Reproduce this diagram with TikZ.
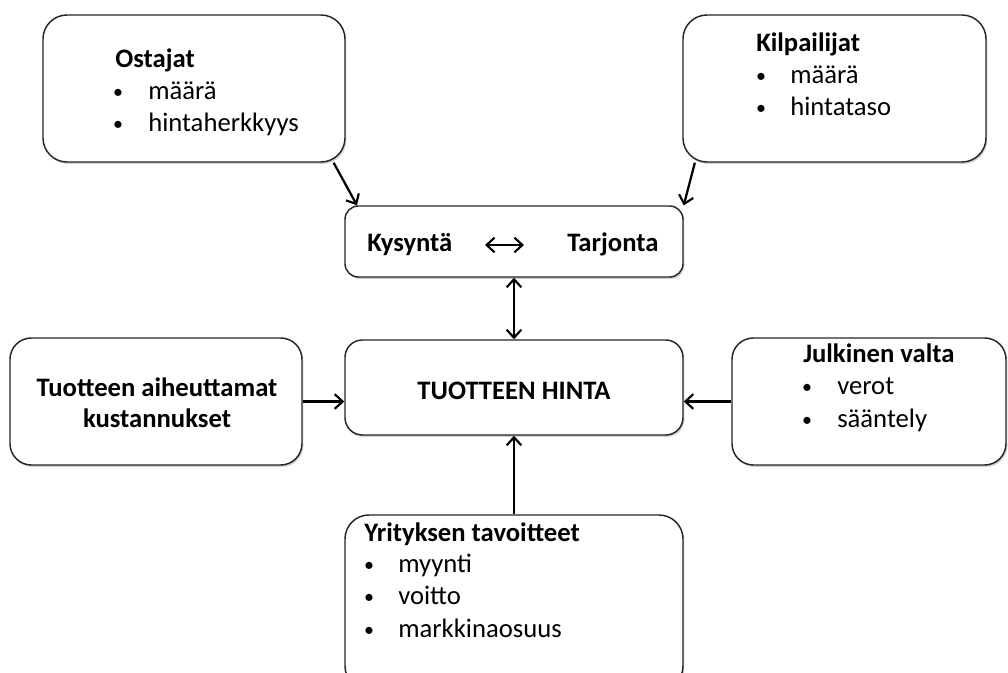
\documentclass[tikz,border=0pt]{standalone}
\usepackage{fontspec}
\setmainfont{Carlito}
\usetikzlibrary{arrows.meta,shadows,calc}
\begin{document}
\begin{tikzpicture}[x=0.75pt,y=-0.75pt,
  box/.style={draw=black!85, line width=1.1pt, fill=white, rounded corners=#1,
    inner sep=0pt, drop shadow={shadow xshift=1pt, shadow yshift=-1.5pt, opacity=0.3, fill=black!60}},
  box/.default=18pt,
  tip/.tip={Straight Barb[length=6pt,width=11pt,line width=1.6pt]},
  arr/.style={line width=1.7pt, -tip},
  darr/.style={line width=1.7pt, tip-tip},
  txt/.style={anchor=base west, inner sep=0pt, font=\fontsize{20}{24}\selectfont},
  btxt/.style={txt, font=\fontsize{20}{24}\selectfont\bfseries},
  bul/.style={anchor=base, inner sep=0pt, font=\fontsize{15}{18}\selectfont}
]
\clip (0,0) rectangle (1008,673);
\useasboundingbox (0,0) rectangle (1008,673);

% boxes
\node[box=18pt, minimum width=302*0.75pt, minimum height=147*0.75pt] (ost) at (194,88.5) {};
\node[box=18pt, minimum width=303*0.75pt, minimum height=147*0.75pt] (kil) at (834.5,88.5) {};
\node[box=10pt, minimum width=338*0.75pt, minimum height=71*0.75pt] (kys) at (514,241.5) {};
\node[box=13pt, minimum width=338*0.75pt, minimum height=95*0.75pt] (hin) at (514,387.5) {};
\node[box=16pt, minimum width=292*0.75pt, minimum height=127*0.75pt] (tac) at (156,401.5) {};
\node[box=16pt, minimum width=274*0.75pt, minimum height=127*0.75pt] (jul) at (869,401.5) {};
\node[box=18pt, minimum width=338*0.75pt, minimum height=175*0.75pt] (yri) at (514,602.5) {};

% Ostajat
\node[btxt] (ostT) at (115,68) {Ostajat};
\node[bul] (ostB1) at (118,99) {•};
\node[txt] (ostL1) at (148,100) {määrä};
\node[bul] (ostB2) at (118,131) {•};
\node[txt] (ostL2) at (148,132) {hintaherkkyys};

% Kilpailijat
\node[btxt] (kilT) at (756,52) {Kilpailijat};
\node[bul] (kilB1) at (761,83) {•};
\node[txt] (kilL1) at (790,84) {määrä};
\node[bul] (kilB2) at (761,115) {•};
\node[txt] (kilL2) at (790,116) {hintataso};

% Kysynta / Tarjonta
\node[btxt] (kysT) at (367,252) {Kysyntä};
\node[btxt] (tarT) at (567,252) {Tarjonta};
\coordinate (k1) at (485,245);
\coordinate (k2) at (524,245);

% Tuotteen hinta
\node[anchor=base, inner sep=0pt, font=\fontsize{20}{24}\selectfont\bfseries] (hinT) at (514,400) {TUOTTEEN HINTA};

% Tuotteen aiheuttamat kustannukset
\node[anchor=base, inner sep=0pt, font=\fontsize{20}{24}\selectfont\bfseries] (tacT1) at (157,397) {Tuotteen aiheuttamat};
\node[anchor=base, inner sep=0pt, font=\fontsize{20}{24}\selectfont\bfseries] (tacT2) at (157,428) {kustannukset};

% Julkinen valta
\node[btxt] (julT) at (803,363) {Julkinen valta};
\node[bul] (julB1) at (807,394) {•};
\node[txt] (julL1) at (837,395) {verot};
\node[bul] (julB2) at (807,427) {•};
\node[txt] (julL2) at (837,428) {sääntely};

% Yrityksen tavoitteet
\node[btxt] (yriT) at (364,542) {Yrityksen tavoitteet};
\node[bul] (yriB1) at (369,572) {•};
\node[txt] (yriL1) at (398,573) {myynti};
\node[bul] (yriB2) at (369,604) {•};
\node[txt] (yriL2) at (398,605) {voitto};
\node[bul] (yriB3) at (369,637) {•};
\node[txt] (yriL3) at (398,638) {markkinaosuus};

% connectors
\draw[arr] (ost.-28) -- (kys.167);
\draw[arr] (kil.-152.6) -- (kys.12.7);
\draw[darr, line width=2.2pt] (k1) -- (k2);
\draw[darr] (kys.south) -- (hin.north);
\draw[arr] (tac.east) -- (tac.east -| hin.west);
\draw[arr] (jul.west) -- (jul.west -| hin.east);
\draw[arr] (yri.north) -- (hin.south);
\end{tikzpicture}
\end{document}
